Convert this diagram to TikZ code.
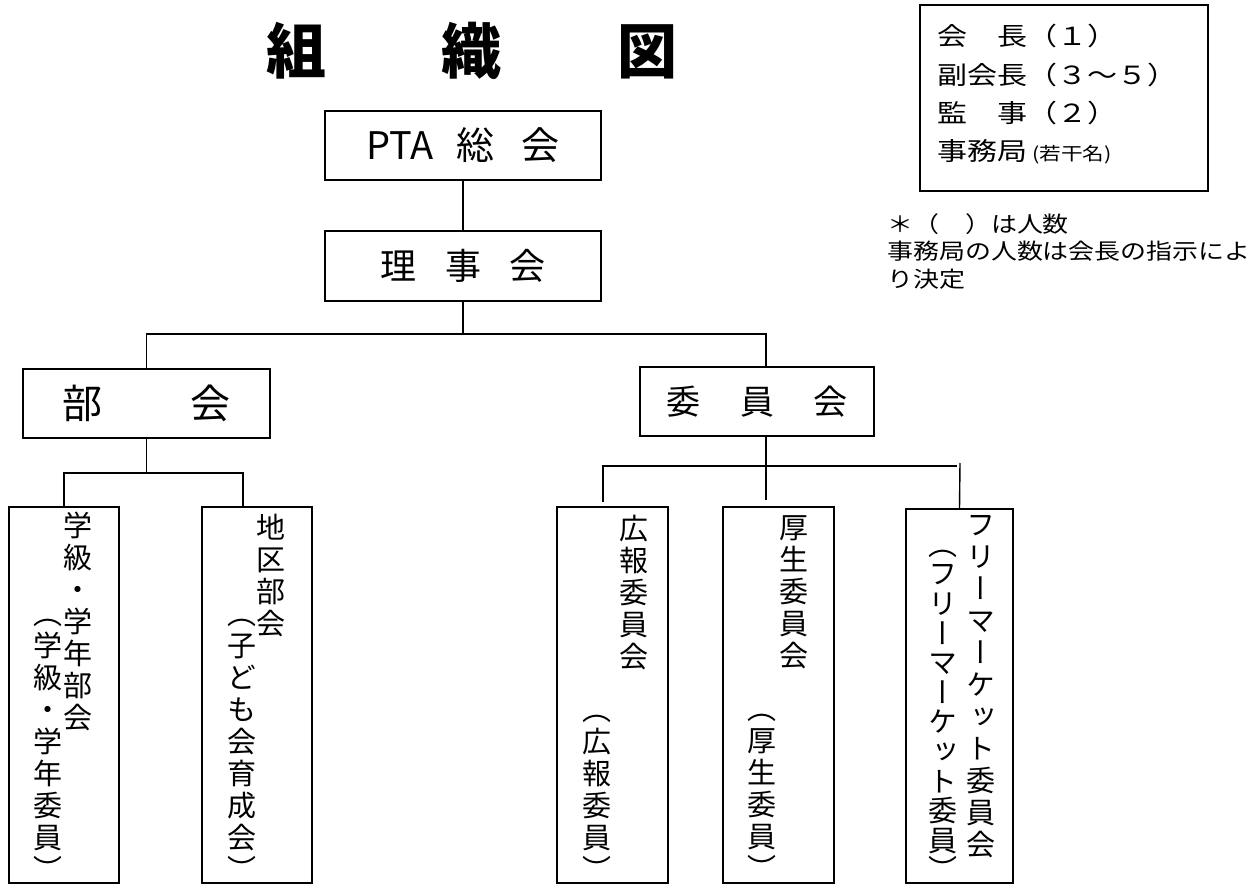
\documentclass[tikz,border=0pt]{standalone}
\usepackage{fontspec}
\setmainfont{Noto Sans CJK JP}
\newfontfamily\tatefont[RawFeature=+vert]{Noto Sans CJK JP}

% stack characters for vertical writing
\ExplSyntaxOn
\NewDocumentCommand \tate { O{32pt} m }
  {
    \vbox
      {
        \baselineskip=#1 \lineskiplimit=-\maxdimen
        \tl_map_inline:nn {#2} { \hbox_to_wd:nn {1em} { \hss ##1 \hss } }
      }
  }
\ExplSyntaxOff

\begin{document}
\begin{tikzpicture}[x=1pt, y=-1pt,
    box/.style={rectangle, draw, line width=1.4pt, inner sep=0pt},
    tatebox/.style={box, minimum width=110pt, minimum height=376pt},
    tate/.style={inner sep=0pt, font=\tatefont\fontsize{29}{32}\selectfont},
    link/.style={line width=1.4pt}]
    \useasboundingbox (0,0) rectangle (1254,885);

    % Title
    \node[font=\fontsize{60}{64}\selectfont\bfseries] (title) at (472,50.5)
        {組\hspace{1.93em}織\hspace{1.93em}図};

    % General meeting and board
    \node[box, minimum width=276pt, minimum height=69pt, font=\fontsize{38}{40}\selectfont]
        (soukai) at (463,145.5) {PTA\hspace{0.6em}総\hspace{0.7em}会};
    \node[box, minimum width=276pt, minimum height=70pt, font=\fontsize{36}{40}\selectfont]
        (rijikai) at (463,266) {理\hspace{0.8em}事\hspace{0.8em}会};
    \draw[link] (soukai) -- (rijikai);

    % Sections and committees
    \node[box, minimum width=247pt, minimum height=69pt, font=\fontsize{40}{44}\selectfont]
        (bukai) at (146.5,403.5) {部\hspace{2.2em}会};
    \node[box, minimum width=234pt, minimum height=69pt, font=\fontsize{34}{40}\selectfont]
        (iinkai) at (757,401.5) {委\hspace{1.16em}員\hspace{1.16em}会};
    \coordinate (bus1) at (463,334);
    \draw[link] (rijikai) -- (bus1);
    \draw[link] (bukai.north) |- (bus1) -| ([xshift=9pt]iinkai.north);

    % Groups under the sections
    \node[tatebox] (gakkyu) at (64,695) {};
    \node[tatebox] (chiku) at (257,695) {};
    \coordinate (bus2) at (146.5,473);
    \draw[link] (bukai) -- (bus2);
    \draw[link] (gakkyu.north) |- (bus2) -| ([xshift=-14pt]chiku.north);

    \node[tate, anchor=north] (gakkyuA) at (78,512) {\tate{学級・学年部会}};
    \node[tate, anchor=south] (gakkyuB) at (48,881) {\tate{（学級・学年委員）}};
    \node[tate, anchor=north] (chikuA) at (271,514) {\tate{地区部会}};
    \node[tate, anchor=south] (chikuB) at (242,881) {\tate{（子ども会育成会）}};

    % Committees
    \node[tatebox, minimum width=111pt] (kouhou) at (612.5,695) {};
    \node[tatebox, minimum width=111pt] (kousei) at (778.5,695) {};
    \node[tatebox, minimum width=107pt, minimum height=374pt] (flea) at (959.5,696) {};
    \coordinate (kouhouTop) at (603,502);
    \coordinate (busEnd) at (957,466);
    \coordinate (kouseiTop) at (766,500);
    \coordinate (fleaTop) at (960,463);
    \draw[link] (kouhouTop) |- (busEnd);
    \draw[link] ([xshift=9pt]iinkai.south) -- (kouseiTop);
    \draw[link] (fleaTop) -- (flea.north);

    \node[tate, anchor=north] (kouhouA) at (634,515) {\tate{広報委員会}};
    \node[tate, anchor=south] (kouhouB) at (597,881) {\tate{（広報委員）}};
    \node[tate, anchor=north] (kouseiA) at (794,515) {\tate{厚生委員会}};
    \node[tate, anchor=south] (kouseiB) at (762,880) {\tate{（厚生委員）}};
    \node[tate, anchor=north] (fleaA) at (981,515) {\tate{フリーマーケット委員会}};
    \node[tate, anchor=south] (fleaB) at (943,881) {\tate[29.6pt]{（フリーマーケット委員）}};

    % Officers
    \node[box, minimum width=288pt, minimum height=186pt] (yakuin) at (1064,98) {};
    \foreach \txt [count=\i] in {会　長（１）, 副会長（３～５）, 監　事（２）,
            {事務局\,{\fontsize{18}{20}\selectfont(若干名)}}}
        \node[anchor=west, inner sep=0pt, font=\fontsize{25}{30}\selectfont]
            (yaku\i) at (937,{36+38.6*(\i-1)}) {\scalebox{1.2}[1]{\txt}};

    % Notes
    \foreach \txt [count=\i] in {＊（　）は人数, 事務局の人数は会長の指示によ, り決定}
        \node[anchor=west, inner sep=0pt, font=\fontsize{22}{26}\selectfont]
            (note\i) at (887,{224+27.5*(\i-1)}) {\scalebox{1.18}[1]{\txt}};
\end{tikzpicture}
\end{document}
